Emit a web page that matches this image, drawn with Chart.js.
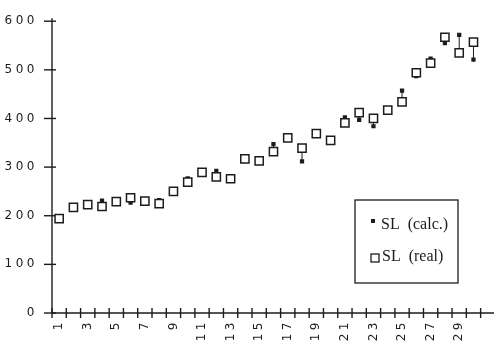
<!DOCTYPE html>
<html>
<head>
<meta charset="utf-8">
<script src="https://cdn.jsdelivr.net/npm/chart.js@4/dist/chart.umd.min.js"></script>
<style>
  html, body { margin: 0; padding: 0; background: #fff; }
  #wrap { width: 494px; height: 343px; }
</style>
</head>
<body>
<div id="wrap"><canvas id="c" width="494" height="343"></canvas></div>
<script>
// Sample numbers along the x axis
const categories = ['1','2','3','4','5','6','7','8','9','10','11','12','13','14','15',
                    '16','17','18','19','20','21','22','23','24','25','26','27','28','29','30'];
// Calculated SL per sample
const slCalc = [199, 217, 223, 231, 229, 227, 230, 232, 250, 277,
                286, 292, 276, 317, 312, 347, 360, 312, 369, 352,
                402, 397, 384, 417, 457, 487, 523, 555, 572, 521];
// Measured SL per sample
const slReal = [194, 217, 223, 219, 229, 237, 230, 225, 250, 269,
                289, 280, 276, 317, 313, 332, 360, 339, 369, 355,
                391, 412, 400, 417, 434, 494, 514, 567, 535, 557];
const yTickValues = [0, 100, 200, 300, 400, 500, 600];
const seriesLabels = ['SL  (calc.)', 'SL  (real)'];

const ink = '#1c1c1c';
const tickFont = { family: 'DejaVu Sans', size: 12 };

// Axis lines, crossing tick marks and calc-to-real connectors
const axisMarks = {
  id: 'axisMarks',
  beforeDatasetsDraw(chart) {
    const { ctx, chartArea: a, scales: { x, y } } = chart;
    const line = (x1, y1, x2, y2) => { ctx.beginPath(); ctx.moveTo(x1, y1); ctx.lineTo(x2, y2); ctx.stroke(); };
    ctx.save();
    ctx.strokeStyle = ink;
    ctx.lineWidth = 1;
    slCalc.forEach((v, i) => {
      const px = x.getPixelForValue(i);
      line(px, y.getPixelForValue(v), px, y.getPixelForValue(slReal[i]));
    });
    ctx.lineWidth = 1.4;
    line(a.left, a.bottom, chart.width, a.bottom);
    line(a.left, a.bottom, a.left, a.top - 3);
    yTickValues.forEach(v => {
      const py = y.getPixelForValue(v);
      line(a.left - 8, py, a.left + 4, py);
    });
    for (let i = 0; i <= categories.length; i++) {
      const px = x.getPixelForValue(i - 0.5);
      line(px, a.bottom - 5, px, a.bottom + 5);
    }
    ctx.restore();
  }
};

// Boxed legend inside the plot area
const boxLegend = {
  id: 'boxLegend',
  afterDraw(chart) {
    const { ctx } = chart;
    ctx.save();
    ctx.letterSpacing = '0px';
    ctx.strokeStyle = ink;
    ctx.lineWidth = 1.3;
    ctx.strokeRect(355, 200, 103, 83);
    ctx.font = '16px "Liberation Serif"';
    ctx.fillStyle = ink;
    ctx.textBaseline = 'middle';
    // calc entry: small filled square
    ctx.fillRect(371, 219, 4, 4);
    ctx.fillText(chart.data.datasets[0].label, 381, 225);
    // real entry: open square
    ctx.fillStyle = '#fff';
    ctx.fillRect(371, 254, 8, 8);
    ctx.strokeRect(371, 254, 8, 8);
    ctx.fillStyle = ink;
    ctx.fillText(chart.data.datasets[1].label, 382, 257);
    ctx.restore();
  }
};

// Wide tracking for the axis numerals
const tracking = {
  id: 'tracking',
  beforeLayout(chart) { chart.ctx.letterSpacing = '3.5px'; },
  beforeDraw(chart) { chart.ctx.letterSpacing = '3.5px'; }
};

new Chart(document.getElementById('c'), {
  type: 'line',
  data: {
    labels: categories,
    datasets: [
      {
        label: seriesLabels[0],
        data: slCalc,
        showLine: false,
        pointStyle: 'rect',
        pointRadius: 3,
        pointBackgroundColor: ink,
        pointBorderColor: ink,
        pointBorderWidth: 0,
        order: 1
      },
      {
        label: seriesLabels[1],
        data: slReal,
        showLine: false,
        pointStyle: 'rect',
        pointRadius: 5.8,
        pointBackgroundColor: '#fff',
        pointBorderColor: ink,
        pointBorderWidth: 1.5,
        order: 0
      }
    ]
  },
  options: {
    responsive: false,
    animation: false,
    events: [],
    layout: { padding: { top: 13, right: 4, left: 0, bottom: 0 } },
    plugins: { legend: { display: false }, tooltip: { enabled: false } },
    scales: {
      x: {
        offset: true,
        grid: { display: false, drawTicks: false, offset: true },
        border: { display: false },
        ticks: {
          autoSkip: false,
          minRotation: 90,
          maxRotation: 90,
          padding: 6,
          color: ink,
          font: tickFont,
          callback: (v, i) => (i % 2 === 0 ? categories[i] : '')
        },
        afterFit: s => { s.height = 30; }
      },
      y: {
        min: 0,
        max: 600,
        grid: { display: false, drawTicks: false },
        border: { display: false },
        afterBuildTicks: s => { s.ticks = yTickValues.map(v => ({ value: v })); },
        ticks: { padding: 14, color: ink, font: tickFont },
        afterFit: s => { s.width = 52; }
      }
    }
  },
  plugins: [tracking, axisMarks, boxLegend]
});
</script>
</body>
</html>
